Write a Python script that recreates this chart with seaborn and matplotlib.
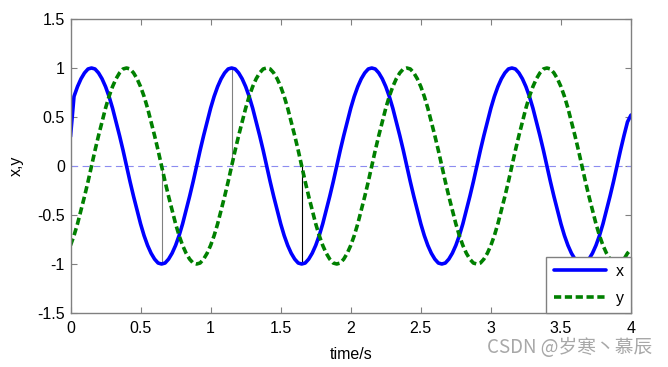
import pandas as pd
import seaborn as sns
import matplotlib.pyplot as plt

# valores (passo de 0.025 s)
t = [round(i * 0.025, 3) for i in range(161)]

x = [0.30, 0.71, 0.81, 0.89, 0.95, 0.99, 1.00, 0.99, 0.95, 0.89, 0.81, 0.71, 0.59, 0.45, 0.31, 0.16, 0.00, -0.16, -0.31, -0.45,
     -0.59, -0.71, -0.81, -0.89, -0.95, -0.99, -1.00, -0.99, -0.95, -0.89, -0.81, -0.71, -0.59, -0.45, -0.31, -0.16, 0.00, 0.16, 0.31, 0.45,
     0.59, 0.71, 0.81, 0.89, 0.95, 0.99, 1.00, 0.99, 0.95, 0.89, 0.81, 0.71, 0.59, 0.45, 0.31, 0.16, 0.00, -0.16, -0.31, -0.45,
     -0.59, -0.71, -0.81, -0.89, -0.95, -0.99, -1.00, -0.99, -0.95, -0.89, -0.81, -0.71, -0.59, -0.45, -0.31, -0.16, 0.00, 0.16, 0.31, 0.45,
     0.59, 0.71, 0.81, 0.89, 0.95, 0.99, 1.00, 0.99, 0.95, 0.89, 0.81, 0.71, 0.59, 0.45, 0.31, 0.16, 0.00, -0.16, -0.31, -0.45,
     -0.59, -0.71, -0.81, -0.89, -0.95, -0.99, -1.00, -0.99, -0.95, -0.89, -0.81, -0.71, -0.59, -0.45, -0.31, -0.16, 0.00, 0.16, 0.31, 0.45,
     0.59, 0.71, 0.81, 0.89, 0.95, 0.99, 1.00, 0.99, 0.95, 0.89, 0.81, 0.71, 0.59, 0.45, 0.31, 0.16, 0.00, -0.16, -0.31, -0.45,
     -0.59, -0.71, -0.81, -0.89, -0.95, -0.99, -1.00, -0.99, -0.95, -0.89, -0.81, -0.71, -0.59, -0.45, -0.31, -0.16, 0.00, 0.16, 0.31, 0.45,
     0.52]

y = [-0.81, -0.71, -0.59, -0.45, -0.31, -0.16, 0.00, 0.16, 0.31, 0.45, 0.59, 0.71, 0.81, 0.89, 0.95, 0.99, 1.00, 0.99, 0.95, 0.89,
     0.81, 0.71, 0.59, 0.45, 0.31, 0.16, 0.00, -0.16, -0.31, -0.45, -0.59, -0.71, -0.81, -0.89, -0.95, -0.99, -1.00, -0.99, -0.95, -0.89,
     -0.81, -0.71, -0.59, -0.45, -0.31, -0.16, 0.00, 0.16, 0.31, 0.45, 0.59, 0.71, 0.81, 0.89, 0.95, 0.99, 1.00, 0.99, 0.95, 0.89,
     0.81, 0.71, 0.59, 0.45, 0.31, 0.16, 0.00, -0.16, -0.31, -0.45, -0.59, -0.71, -0.81, -0.89, -0.95, -0.99, -1.00, -0.99, -0.95, -0.89,
     -0.81, -0.71, -0.59, -0.45, -0.31, -0.16, 0.00, 0.16, 0.31, 0.45, 0.59, 0.71, 0.81, 0.89, 0.95, 0.99, 1.00, 0.99, 0.95, 0.89,
     0.81, 0.71, 0.59, 0.45, 0.31, 0.16, 0.00, -0.16, -0.31, -0.45, -0.59, -0.71, -0.81, -0.89, -0.95, -0.99, -1.00, -0.99, -0.95, -0.89,
     -0.81, -0.71, -0.59, -0.45, -0.31, -0.16, 0.00, 0.16, 0.31, 0.45, 0.59, 0.71, 0.81, 0.89, 0.95, 0.99, 1.00, 0.99, 0.95, 0.89,
     0.81, 0.71, 0.59, 0.45, 0.31, 0.16, 0.00, -0.16, -0.31, -0.45, -0.59, -0.71, -0.81, -0.89, -0.95, -0.99, -1.00, -0.99, -0.95, -0.89,
     -0.85]

# linhas verticais finas
stem_t = [0.65, 1.15, 1.65]
stem_lo = [-1.0, 0.0, -1.0]
stem_hi = [0.0, 1.0, 0.0]
stem_cores = ['gray', 'gray', 'black']

xticks = [0, 0.5, 1, 1.5, 2, 2.5, 3, 3.5, 4]
xtick_labels = ['0', '0.5', '1', '1.5', '2', '2.5', '3', '3.5', '4']
yticks = [-1.5, -1, -0.5, 0, 0.5, 1, 1.5]
ytick_labels = ['-1.5', '-1', '-0.5', '0', '0.5', '1', '1.5']

sns.set_style('white')
plt.rcParams['font.family'] = ['Liberation Sans', 'DejaVu Sans']
plt.rcParams['font.size'] = 11.5
plt.rcParams['text.color'] = 'black'
plt.rcParams['axes.labelcolor'] = 'black'
plt.rcParams['xtick.color'] = 'black'
plt.rcParams['ytick.color'] = 'black'

dados = pd.DataFrame({'t': t, 'x': x, 'y': y})

fig = plt.figure(figsize=(6.68, 3.67), dpi=100)
ax = fig.add_axes([70.5 / 668, 1 - 313 / 367, (631 - 70.5) / 668, (313 - 19) / 367])

ax.axhline(0, color='#8c8cf0', linewidth=0.8, dashes=(6, 4))
ax.vlines(stem_t, stem_lo, stem_hi, colors=stem_cores, linewidth=0.8)

sns.lineplot(data=dados, x='t', y='x', ax=ax, color='#0000ff', linewidth=2.6, label='x')
sns.lineplot(data=dados, x='t', y='y', ax=ax, color='#008000', linewidth=2.6, label='y',
             dashes=False, linestyle=(0, (2.0, 1.0)))

ax.set_xlim(0, 4)
ax.set_ylim(-1.5, 1.5)
ax.set_xticks(xticks)
ax.set_xticklabels(xtick_labels)
ax.set_yticks(yticks)
ax.set_yticklabels(ytick_labels)
ax.tick_params(direction='in', length=4, color='#808080', labelcolor='black', top=True, right=True,
               bottom=True, left=True, labelsize=11.5)
ax.tick_params(axis='x', pad=6)
ax.tick_params(axis='y', pad=4)
for s in ax.spines.values():
    s.set_color('#808080')
    s.set_linewidth(1.0)

ax.set_xlabel('time/s', fontsize=11.5, labelpad=8)
ax.set_ylabel('x,y', fontsize=11.5, labelpad=10)

leg = ax.legend(loc='lower right', borderaxespad=0, fancybox=False, framealpha=1,
                edgecolor='#808080', fontsize=11.5, handlelength=3.3, labelspacing=0.75,
                borderpad=0.45, handletextpad=0.6)
leg.get_frame().set_linewidth(1.0)

fig.text(0.976, 0.054, 'CSDN @岁寒丶慕辰', ha='right', va='center', fontsize=13.5,
         color='#a8a8a8', family=['Noto Sans CJK SC', 'DejaVu Sans'])

plt.savefig('out.png', dpi=100)
